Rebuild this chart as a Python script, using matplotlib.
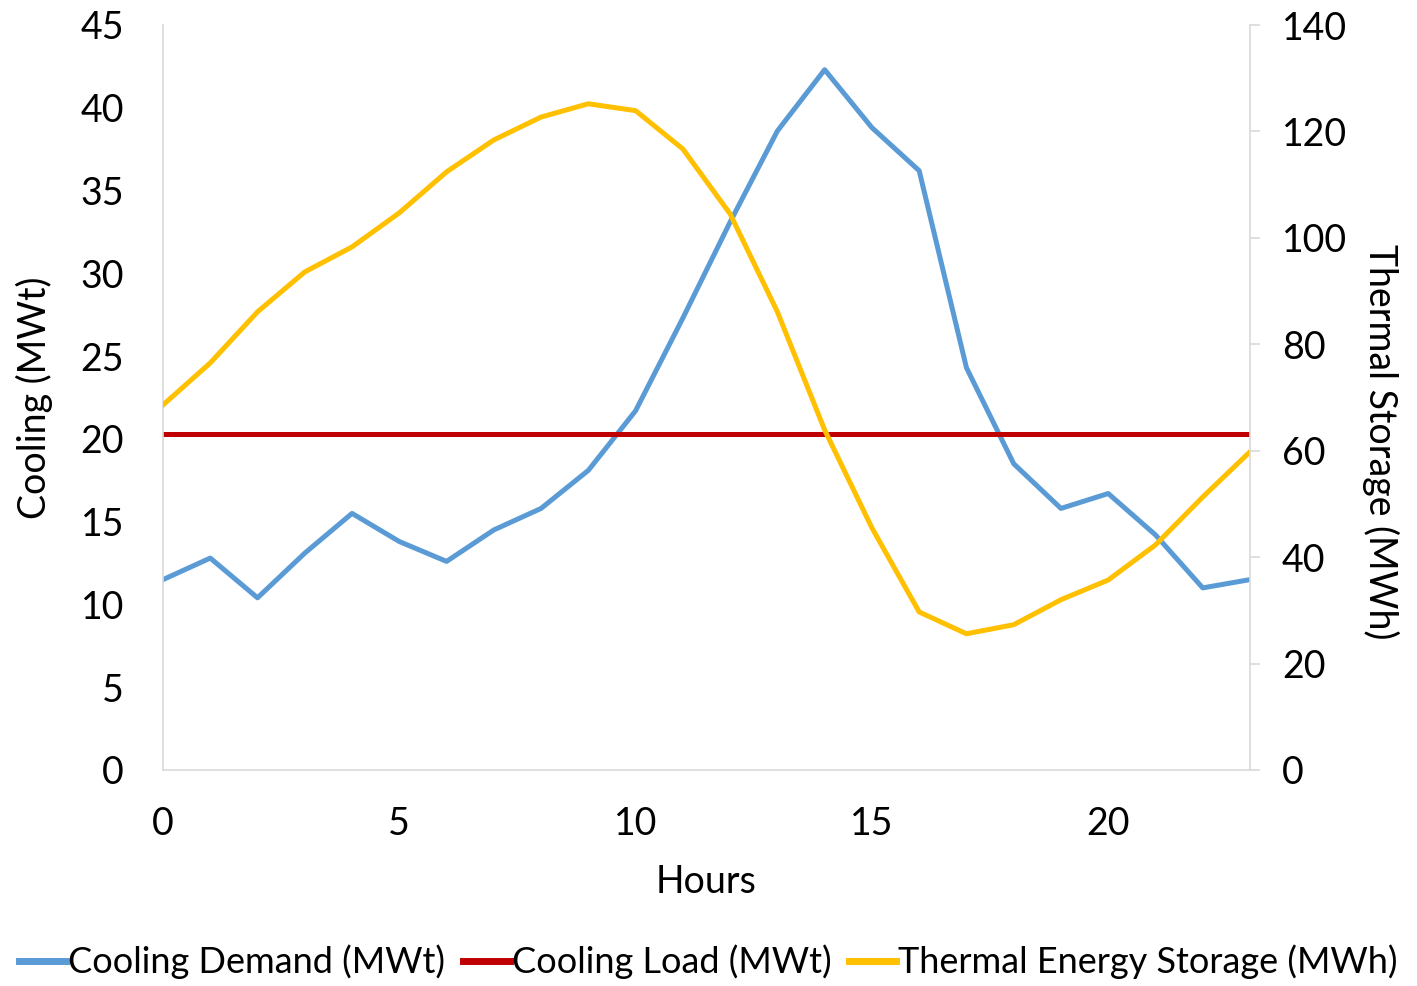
import matplotlib

matplotlib.use("Agg")

import matplotlib.pyplot as plt

plt.rcParams["font.family"] = ["Lato", "DejaVu Sans"]

hours = list(range(24))
cooling_demand = [11.5, 12.8, 10.4, 13.1, 15.5, 13.8, 12.6, 14.5, 15.8, 18.1,
                  21.7, 27.3, 33.1, 38.6, 42.3, 38.8, 36.2, 24.3, 18.5, 15.8,
                  16.7, 14.2, 11.0, 11.5]
cooling_load = [20.3] * 24
tes = [68.6, 76.5, 86.1, 93.6, 98.3, 104.7, 112.4, 118.4, 122.7, 125.2,
       123.9, 116.7, 104.5, 86.1, 63.9, 45.5, 29.7, 25.6, 27.3, 32.0,
       35.7, 42.3, 51.3, 59.8]

BLUE = "#5B9BD5"
RED = "#C00000"
GOLD = "#FFC000"
GRID = "#D9D9D9"
FS = 27

fig = plt.figure(figsize=(14.17, 9.86), dpi=100)
ax = fig.add_axes([163 / 1417, 1 - 770 / 986, (1250 - 163) / 1417, (770 - 25) / 986])
ax2 = ax.twinx()

l1, = ax.plot(hours, cooling_demand, color=BLUE, lw=3.6, label="Cooling Demand (MWt)")
l2, = ax.plot(hours, cooling_load, color=RED, lw=3.6, label="Cooling Load (MWt)")
l3, = ax2.plot(hours, tes, color=GOLD, lw=3.6, label="Thermal Energy Storage (MWh)")

ax.set_xlim(0, 23)
ax.set_ylim(0, 45)
ax2.set_ylim(0, 140)
ax.set_xticks([0, 5, 10, 15, 20])
ax.set_yticks(range(0, 46, 5))
ax2.set_yticks(range(0, 141, 20))

for a in (ax, ax2):
    for s in a.spines.values():
        s.set_color(GRID)
        s.set_linewidth(1.2)
    a.spines["top"].set_visible(False)
ax.spines["right"].set_visible(False)
ax2.spines["left"].set_visible(False)
ax2.spines["bottom"].set_visible(False)

ax.tick_params(axis="both", length=0, labelsize=FS)
ax.tick_params(axis="y", pad=28)
ax.tick_params(axis="x", pad=26)
ax2.tick_params(axis="y", length=7, width=1.2, color=GRID, labelsize=FS, pad=16)

ax.set_xlabel("Hours", fontsize=FS, labelpad=16)
ax.set_ylabel("Cooling (MWt)", fontsize=FS, labelpad=20)
ax2.set_ylabel("Thermal Storage (MWh)", fontsize=FS, rotation=-90, va="center")
ax2.yaxis.set_label_coords(1.12, 0.44)

fig.legend(handles=[l1, l2, l3], loc="center", bbox_to_anchor=(0.5, 1 - 962 / 986),
           ncol=3, frameon=False, fontsize=26, handlelength=1.3, handletextpad=0.05,
           columnspacing=0.5)
for h in fig.legends[0].legend_handles:
    h.set_linewidth(5)

fig.savefig("out.png", dpi=100)
